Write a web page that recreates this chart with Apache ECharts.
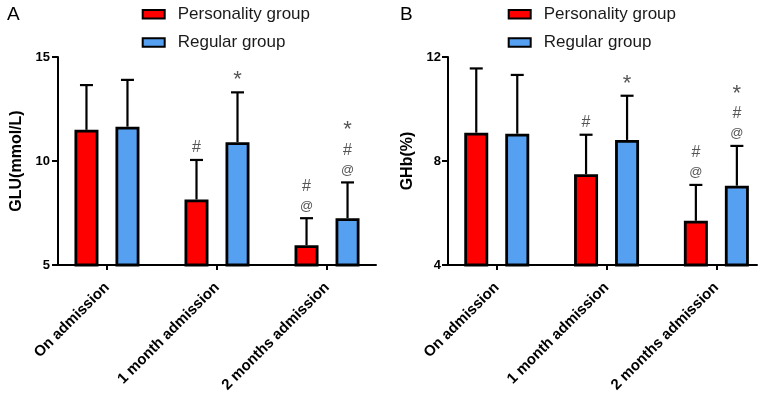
<!DOCTYPE html>
<html><head><meta charset="utf-8">
<script src="https://cdn.jsdelivr.net/npm/echarts@6/dist/echarts.min.js"></script>
<style>html,body{margin:0;padding:0;background:#fff}#c{width:758px;height:397px}</style>
</head><body><div id="c"></div>
<script>
// ---- data ----
const categories = ['On admission', '1 month admission', '2 months admission'];
const seriesNames = ['Personality group', 'Regular group'];

const gluPersonality   = [11.5, 8.15, 5.95];
const gluPersonalitySD = [2.15, 1.9, 1.3];
const gluRegular       = [11.65, 10.9, 7.25];
const gluRegularSD     = [2.25, 2.4, 1.72];

const ghbPersonality   = [9.09, 7.49, 5.70];
const ghbPersonalitySD = [2.47, 1.52, 1.38];
const ghbRegular       = [9.05, 8.81, 7.05];
const ghbRegularSD     = [2.26, 1.70, 1.53];

// significance marks, top to bottom
const personalityMarks = ['', '#', '#@'];
const regularMarks     = ['', '*', '*#@'];

const gluTicks = [5, 10, 15];
const ghbTicks = [4, 8, 12];

// ---- style / layout ----
const FONT = 'Liberation Sans, Arial, Helvetica, sans-serif';
const COLORS = ['#ff0000', '#56a0f2'];
const BAR_W = 24, GAP_PX = 17, CAP = 6.5;
const HALF = (BAR_W + GAP_PX) / 2;
const MARK_BASE = 12, MARK_STEP = 20;
const MARK_SIZE = {'*': 22, '#': 16, '@': 13};

const panels = [
  {label: 'A', labelLeft: 7, yName: 'GLU(mmol/L)', ticks: gluTicks,
   means: [gluPersonality, gluRegular], sds: [gluPersonalitySD, gluRegularSD],
   grid: {left: 58, top: 57, width: 318, height: 208}, xMin: -0.445, xMax: 2.445,
   legendLeft: 141.7, nameGap: 33, labelMargin: 8},
  {label: 'B', labelLeft: 400, yName: 'GHb(%)', ticks: ghbTicks,
   means: [ghbPersonality, ghbRegular], sds: [ghbPersonalitySD, ghbRegularSD],
   grid: {left: 448, top: 57, width: 309, height: 208}, xMin: -0.444, xMax: 2.37,
   legendLeft: 507.7, nameGap: 32, labelMargin: 7}
];
const marks = [personalityMarks, regularMarks];

function errRenderer(offsetPx, markList) {
  return function (params, api) {
    const i = api.value(0);
    const base = api.coord([i, api.value(1)]);
    const top = api.coord([i, api.value(2)]);
    const x = top[0] + offsetPx;
    const children = [
      {type: 'line', shape: {x1: x, y1: base[1], x2: x, y2: top[1]}, style: {stroke: '#000', lineWidth: 2.2}},
      {type: 'line', shape: {x1: x - CAP, y1: top[1], x2: x + CAP, y2: top[1]}, style: {stroke: '#000', lineWidth: 2.2}}
    ];
    const m = markList[params.dataIndex].split('').reverse();
    m.forEach(function (ch, k) {
      children.push({type: 'text', x: x, y: top[1] - MARK_BASE - k * MARK_STEP,
        style: {text: ch, fontSize: MARK_SIZE[ch], fontFamily: FONT, fill: '#555', align: 'center', verticalAlign: 'middle'}});
    });
    return {type: 'group', children: children};
  };
}

const option = {
  backgroundColor: '#fff',
  animation: false,
  title: panels.map(p => ({text: p.label, left: p.labelLeft, top: 5, padding: 0,
    textStyle: {fontSize: 19, fontWeight: 'normal', color: '#000', fontFamily: FONT}})),
  legend: panels.map(p => ({data: seriesNames, orient: 'vertical', left: p.legendLeft, top: 5.7, padding: 0,
    itemWidth: 22, itemHeight: 8.5, itemGap: 11.3, icon: 'rect', selectedMode: false,
    itemStyle: {borderColor: '#000', borderWidth: 2},
    textStyle: {fontSize: 17, color: '#1a1a1a', fontFamily: FONT, padding: [0, 0, 0, 8]}})),
  grid: panels.map(p => Object.assign({outerBoundsMode: 'none', containLabel: false}, p.grid)),
  xAxis: panels.map((p, gi) => ({type: 'value', gridIndex: gi, min: p.xMin, max: p.xMax,
    axisLine: {show: true, onZero: false, lineStyle: {color: '#000', width: 2}},
    axisTick: {show: true, customValues: [0, 1, 2], length: 5, lineStyle: {color: '#000', width: 2}},
    axisLabel: {show: true, customValues: [0, 1, 2], rotate: 45, margin: 20, padding: [14, 0, 0, 0],
      formatter: v => categories[Math.round(v)], fontSize: 15, fontWeight: 'bold', color: '#000', fontFamily: FONT},
    splitLine: {show: false}})),
  yAxis: panels.map((p, gi) => ({type: 'value', gridIndex: gi,
    min: p.ticks[0], max: p.ticks[p.ticks.length - 1], interval: p.ticks[1] - p.ticks[0],
    name: p.yName, nameLocation: 'middle', nameRotate: 90, nameGap: p.nameGap, nameMoveOverlap: false,
    nameTextStyle: {fontSize: 16, fontWeight: 'bold', color: '#000', fontFamily: FONT},
    axisLine: {show: true, onZero: false, lineStyle: {color: '#000', width: 2}},
    axisTick: {show: true, length: 6, lineStyle: {color: '#000', width: 2}},
    axisLabel: {margin: p.labelMargin, fontSize: 13, fontWeight: 'bold', color: '#000', fontFamily: FONT},
    splitLine: {show: false}})),
  series: []
};

panels.forEach(function (p, gi) {
  [0, 1].forEach(function (s) {
    option.series.push({
      type: 'bar', name: seriesNames[s], xAxisIndex: gi, yAxisIndex: gi,
      barWidth: BAR_W, barGap: (GAP_PX / BAR_W * 100) + '%',
      itemStyle: {color: COLORS[s], borderColor: '#000', borderWidth: 2.8},
      data: p.means[s].map((v, i) => [i, v]), z: 3
    });
  });
  [0, 1].forEach(function (s) {
    option.series.push({
      type: 'custom', name: 'err' + gi + s, xAxisIndex: gi, yAxisIndex: gi, clip: false, z: 2,
      renderItem: errRenderer(s === 0 ? -HALF : HALF, marks[s]),
      encode: {x: 0, y: [1, 2]},
      data: p.means[s].map((v, i) => [i, v, +(v + p.sds[s][i]).toFixed(3)])
    });
  });
});

const chart = echarts.init(document.getElementById('c'), null, {renderer: 'canvas'});
chart.setOption(option);
</script></body></html>
